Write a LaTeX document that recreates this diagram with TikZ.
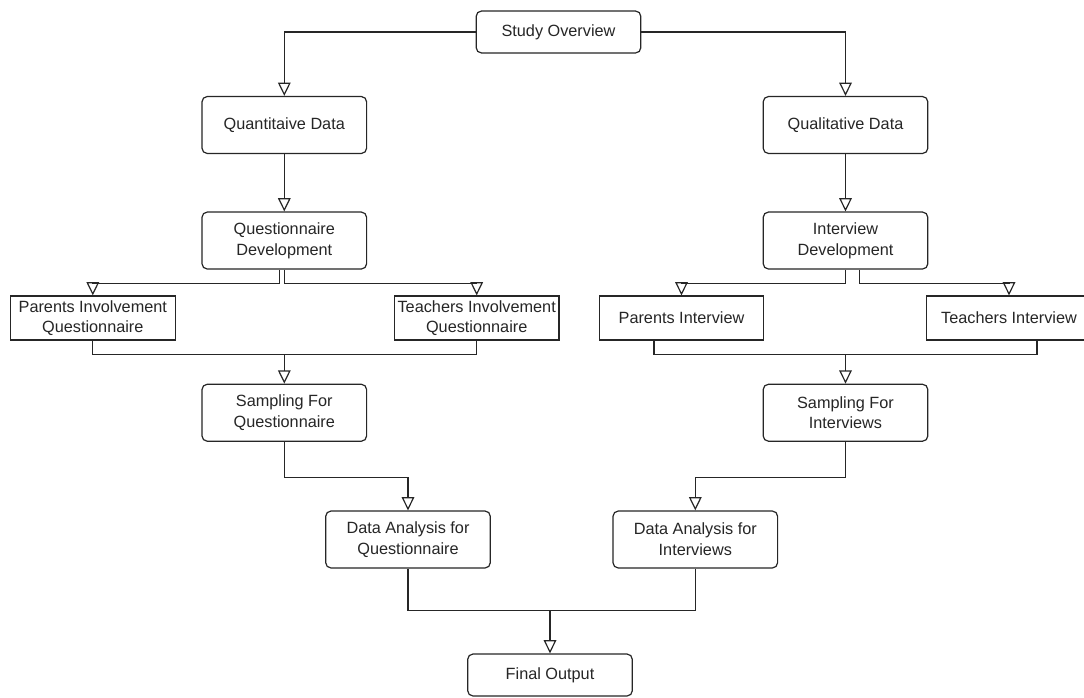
\documentclass[tikz,border=0pt]{standalone}
\usepackage{fontspec}
\setmainfont{Liberation Sans}
\usetikzlibrary{arrows.meta, positioning, calc}
\definecolor{ink}{RGB}{38,38,38}

\begin{document}
\begin{tikzpicture}[
  x=0.75pt, y=-0.75pt,
  base/.style={draw=ink, text=ink, line width=0.9pt, fill=white,
               font=\fontsize{12.2}{15.5}\selectfont, align=center,
               inner sep=1pt, minimum width=123.5pt},
  box/.style={base, rounded corners=4pt, minimum height=42.75pt},
  smallbox/.style={base, rounded corners=4pt, minimum height=31.5pt},
  plainbox/.style={base, minimum height=33pt},
  link/.style={draw=ink, line width=0.9pt},
  arr/.style={link, -{Triangle[open, length=10pt, width=9.5pt]}},
]
\useasboundingbox (0,0) rectangle (1084,697);

\node[smallbox] (study) at (558.5,32) {Study Overview};
\node[box] (quant) at (284.3,125) {Quantitaive Data};
\node[box] (qual) at (845.5,125) {Qualitative Data};
\node[box, below=43pt of quant] (qdev) {Questionnaire\\Development};
\node[box, below=43pt of qual] (idev) {Interview\\Development};
\node[plainbox] (pinvq) at (92.8,318) {Parents Involvement\\Questionnaire};
\node[plainbox] (tinvq) at (476.7,318) {Teachers Involvement\\Questionnaire};
\node[plainbox] (pint) at (681.5,318) {Parents Interview};
\node[plainbox] (tint) at (1009,318) {Teachers Interview};
\node[box, below=85.5pt of qdev] (samq) {Sampling For\\Questionnaire};
\node[box, below=85.5pt of idev] (sami) {Sampling For\\Interviews};
\node[box] (daq) at (408,539.5) {Data Analysis for\\Questionnaire};
\node[box] (dai) at (695.3,539.5) {Data Analysis for\\Interviews};
\node[smallbox] (final) at (550,675) {Final Output};

\draw[arr] (study) -| (quant);
\draw[arr] (study) -| (qual);
\draw[arr] (quant) -- (qdev);
\draw[arr] (qual) -- (idev);

% split to the two questionnaires / interviews
\draw[arr] ([xshift=-3.7pt]qdev.south) -- ++(0,13.5) -| (pinvq);
\draw[arr] (qdev.south) -- ++(0,13.5) -| (tinvq);
\draw[arr] (idev.south) -- ++(0,13.5) -| (pint);
\draw[arr] ([xshift=10.5pt]idev.south) -- ++(0,13.5) -| (tint);

% merge into sampling
\coordinate (jq) at ($(samq.north)+(0,-29)$);
\draw[link] (pinvq) |- (jq);
\draw[link] (tinvq) |- (jq);
\draw[arr] (jq) -- (samq);
\coordinate (ji) at ($(sami.north)+(0,-29)$);
\draw[link] ([xshift=-20.6pt]pint.south) |- (ji);
\draw[link] ([xshift=21pt]tint.south) |- (ji);
\draw[arr] (ji) -- (sami);

\draw[arr] (samq.south) -- ++(0,36) -| (daq);
\draw[arr] (sami.south) -- ++(0,36) -| (dai);

\coordinate (jf) at ($(final.north)+(0,-43)$);
\draw[link] (daq) |- (jf);
\draw[link] (dai) |- (jf);
\draw[arr] (jf) -- (final);

\end{tikzpicture}
\end{document}
